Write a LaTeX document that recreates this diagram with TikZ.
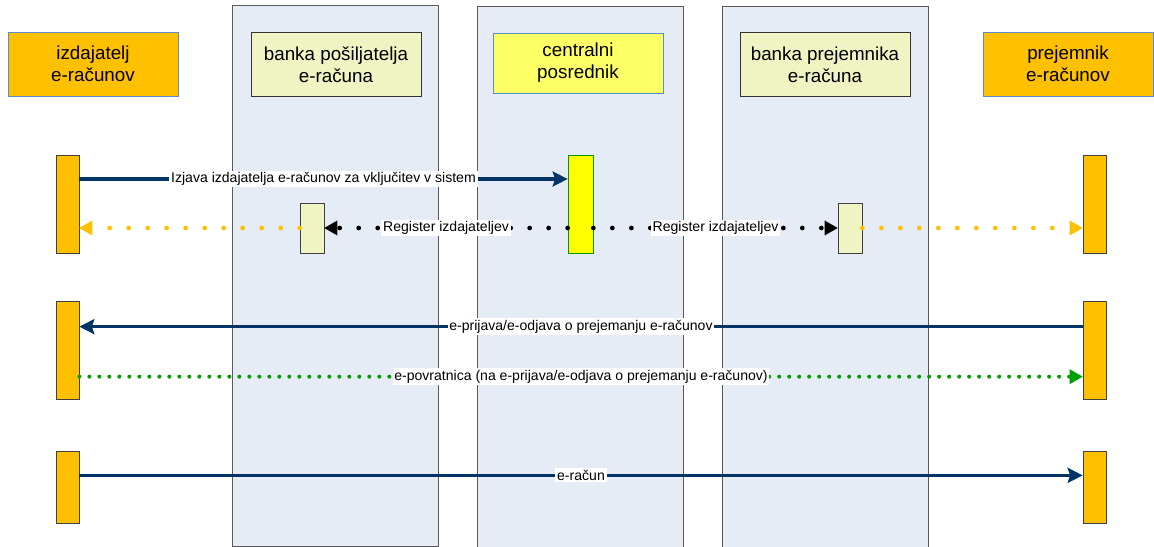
\documentclass[tikz,border=0pt]{standalone}
\usepackage{fontspec}
\setmainfont{Liberation Sans}
\usetikzlibrary{positioning,arrows.meta}

\definecolor{lanefill}{HTML}{E6ECF6}
\definecolor{izdorange}{HTML}{FFC000}
\definecolor{bankfill}{HTML}{EFF4C2}
\definecolor{cenfill}{HTML}{FFFF66}
\definecolor{cenbar}{HTML}{FFFF00}
\definecolor{navy}{HTML}{003366}
\definecolor{frameblue}{HTML}{5B8BD0}
\definecolor{dotgreen}{HTML}{009F00}

\begin{document}
\begin{tikzpicture}[x=0.02cm,y=-0.02cm,
  lane/.style={draw=black!65,fill=lanefill,minimum width=4.12cm,minimum height=10.82cm,inner sep=0pt},
  head/.style={minimum width=3.4cm,minimum height=1.28cm,align=center,inner sep=0pt,
    font=\fontsize{10.7}{12.4}\selectfont},
  bar/.style={draw=black!75,fill=izdorange,minimum width=0.46cm,inner sep=0pt},
  msg/.style={draw=navy,line width=1.8pt,-{Stealth[length=0.3cm,width=0.3cm,inset=0.05cm]}},
  dots/.style={line width=2.7pt,line cap=round,dash pattern=on 0pt off 0.38cm,
    -{Triangle[length=0.26cm,width=0.3cm,line width=0pt]}},
  lbl/.style={fill=white,inner sep=1pt,text=black,font=\fontsize{8}{9.5}\selectfont}]
\useasboundingbox (0,0) rectangle (1154,547);

% lanes of the banks and the central hub
\node[lane] (lane1) at (335,275.5) {};
\node[lane] (lane2) at (580,276.5) {};
\node[lane] (lane3) at (825,276.5) {};

% participants
\node[head,draw=frameblue,fill=izdorange] (izd) at (93,64) {izdajatelj\\e-računov};
\node[head,draw=black!80,fill=bankfill] (bps) at (336,64.5) {banka pošiljatelja\\e-računa};
\node[head,draw=frameblue,fill=cenfill,minimum height=1.2cm] (cen) at (578,63) {centralni\\posrednik};
\node[head,draw=black!80,fill=bankfill] (bpr) at (825,64.5) {banka prejemnika\\e-računa};
\node[head,draw=frameblue,fill=izdorange] (pre) at (1068,64) {prejemnik\\e-računov};

% activation bars
\node[bar,minimum height=1.96cm] (izd1) at (67.5,204) {};
\node[bar,minimum height=1.96cm] (pre1) at (1094.5,204) {};
\node[bar,draw=green!60!black,fill=cenbar,minimum width=0.5cm,minimum height=1.96cm] (cen1) at (580.5,204) {};
\node[bar,fill=bankfill,minimum width=0.48cm,minimum height=1cm] (bk1) at (312,228) {};
\node[bar,fill=bankfill,minimum width=0.48cm,minimum height=1cm] (bk2) at (850,228) {};
\node[bar,minimum height=1.96cm,below=0.96cm of izd1] (izd2) {};
\node[bar,minimum height=1.96cm,below=0.96cm of pre1] (pre2) {};
\node[bar,minimum height=1.44cm,below=1.02cm of izd2.south,anchor=north] (izd3) {};
\node[bar,minimum height=1.44cm,below=1.02cm of pre2.south,anchor=north] (pre3) {};

% messages
\coordinate (m1) at ([yshift=0.5cm]izd1.east);
\draw[msg] (m1) -- node[lbl] {Izjava izdajatelja e-računov za vključitev v sistem} (m1 -| cen1.west);

\draw[dots,izdorange] (bk1.west) -- (izd1.east |- bk1.west);
\draw[dots,black] (cen1.west |- bk1.east) -- node[lbl] {Register izdajateljev} (bk1.east);
\draw[dots,black] (cen1.east |- bk2.west) -- node[lbl] {Register izdajateljev} (bk2.west);
\draw[dots,izdorange] (bk2.east) -- (pre1.west |- bk2.east);

\coordinate (m2) at ([yshift=0.48cm]pre2.west);
\draw[msg] (m2) -- node[lbl] {e-prijava/e-odjava o prejemanju e-računov} (m2 -| izd2.east);

\coordinate (m3) at ([yshift=-0.52cm]izd2.east);
\draw[dots,dotgreen,dash pattern=on 0pt off 0.2cm,line width=2.3pt] (m3) -- node[lbl] {e-povratnica (na e-prijava/e-odjava o prejemanju e-računov)} (m3 -| pre2.west);

\coordinate (m4) at ([yshift=0.24cm]izd3.east);
\draw[msg] (m4) -- node[lbl] {e-račun} (m4 -| pre3.west);
\end{tikzpicture}
\end{document}
